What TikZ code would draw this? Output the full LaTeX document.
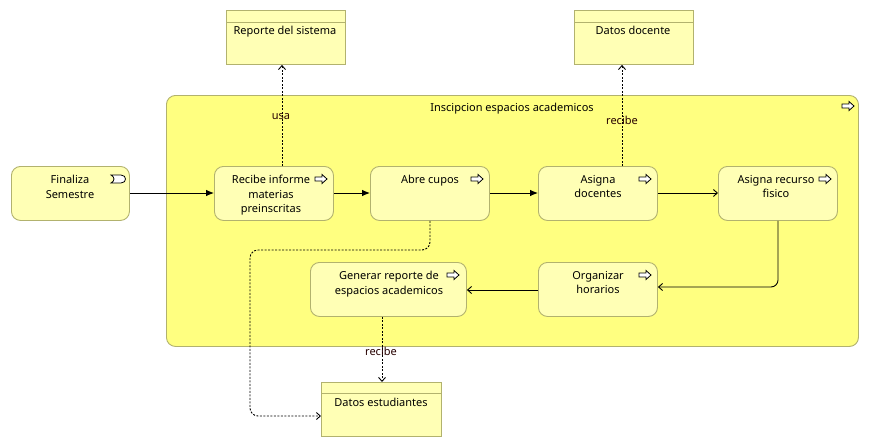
\documentclass[tikz,border=0pt]{standalone}
\usepackage{fontspec}
\setmainfont{Noto Sans}
\usetikzlibrary{arrows.meta}
\definecolor{contfill}{RGB}{255,255,128}
\definecolor{boxfill}{RGB}{255,255,181}
\definecolor{boxline}{RGB}{178,178,110}
\tikzset{
  pbox/.style={draw=boxline, fill=boxfill, line width=0.9pt, rounded corners=9pt, minimum width=119pt, minimum height=54pt, inner sep=0pt},
  dbox/.style={draw=boxline, fill=boxfill, line width=0.9pt, minimum width=119pt, minimum height=54pt, inner sep=0pt},
  txt/.style={font=\fontsize{11}{14.5}\selectfont, align=center, inner sep=0pt, anchor=north},
  trig/.style={line width=0.9pt, -{Latex[length=8pt,width=6.5pt]}},
  flow/.style={line width=0.9pt, -{Straight Barb[length=4pt,width=7pt]}},
  acc/.style={line width=0.9pt, dash pattern=on 2pt off 1.5pt, -{Straight Barb[length=4pt,width=7pt]}},
  lbl/.style={font=\fontsize{11}{12}\selectfont, inner sep=0pt, text=black!85!red},
  icon/.style={line width=0.8pt, draw=black, fill=white}
}
\newcommand{\procicon}[2]{% x,y center
  \draw[icon] (#1-6,#2-2) -- (#1+1,#2-2) -- (#1+1,#2-4.5) -- (#1+6,#2) -- (#1+1,#2+4.5) -- (#1+1,#2+2) -- (#1-6,#2+2) -- cycle;
}
\begin{document}
\begin{tikzpicture}[x=1pt,y=-1pt]
\useasboundingbox (0,0) rectangle (869,447);
% container
\node[draw=boxline, fill=contfill, line width=0.9pt, rounded corners=9pt, minimum width=692pt, minimum height=251pt, inner sep=0pt, anchor=north west] (cont) at (166,95) {};
\node[txt] (cont-t) at (512,103) {Inscipcion espacios academicos};
\procicon{848}{106}

% event
\node[pbox, anchor=north west, minimum width=118pt] (fin) at (11,166) {};
\node[txt] (fin-t) at (70,175) {Finaliza\\Semestre};
\draw[icon] (111,175) -- (121,175) .. controls (127,175) and (127,183) .. (121,183) -- (111,183) .. controls (115,181) and (115,177) .. (111,175) -- cycle;

% processes
\node[pbox, anchor=north west] (rec) at (214,166) {};
\node[txt] (rec-t) at (271,175) {Recibe informe\\materias\\preinscritas};
\procicon{321}{179}
\node[pbox, anchor=north west] (abre) at (370,166) {};
\node[txt] (abre-t) at (430,175) {Abre cupos};
\procicon{477}{179}
\node[pbox, anchor=north west] (doc) at (538,166) {};
\node[txt] (doc-t) at (598,175) {Asigna\\docentes};
\procicon{645}{179}
\node[pbox, anchor=north west] (rf) at (718,166) {};
\node[txt] (rf-t) at (776,175) {Asigna recurso\\fisico};
\procicon{825}{179}
\node[pbox, anchor=north west] (org) at (538,262) {};
\node[txt] (org-t) at (598,271) {Organizar\\horarios};
\procicon{645}{275}
\node[pbox, anchor=north west, minimum width=156pt] (gen) at (310,262) {};
\node[txt] (gen-t) at (389,271) {Generar reporte de\\espacios academicos};
\procicon{453}{275}

% data objects
\node[dbox, anchor=north west] (rep) at (226,10) {};
\draw[draw=boxline, line width=0.9pt] (226,22) -- (345,22);
\node[txt] (rep-t) at (285,26) {Reporte del sistema};
\node[dbox, anchor=north west] (dd) at (574,10) {};
\draw[draw=boxline, line width=0.9pt] (574,22) -- (693,22);
\node[txt] (dd-t) at (633,26) {Datos docente};
\node[dbox, anchor=north west, minimum width=120pt] (de) at (321,382) {};
\draw[draw=boxline, line width=0.9pt] (321,393) -- (441,393);
\node[txt] (de-t) at (381,398) {Datos estudiantes};

% triggering
\draw[trig] (fin.east |- 0,193) -- (rec.west |- 0,193);
\draw[trig] (rec.east |- 0,193) -- (abre.west |- 0,193);
\draw[trig] (abre.east |- 0,193) -- (doc.west |- 0,193);
% flows
\draw[flow] (doc.east |- 0,193) -- (rf.west |- 0,193);
\draw[flow, rounded corners=7pt] (rf.south -| 778,0) -- (778,287) -- (org.east |- 0,287);
\draw[flow] (org.west |- 0,290) -- (gen.east |- 0,290);
% access
\draw[acc] (rec.north -| 282,0) -- (rep.south -| 282,0);
\node[lbl] (usa) at (281,117) {usa};
\draw[acc] (doc.north -| 622,0) -- (dd.south -| 622,0);
\node[lbl] (rec1) at (622,120) {recibe};
\draw[acc, rounded corners=8pt] (abre.south -| 430,0) -- (430,250) -- (250,250) -- (250,416) -- (de.west |- 0,416);
\draw[acc] (gen.south -| 382,0) -- (de.north -| 382,0);
\node[lbl] (rec2) at (381,351) {recibe};
\end{tikzpicture}
\end{document}
